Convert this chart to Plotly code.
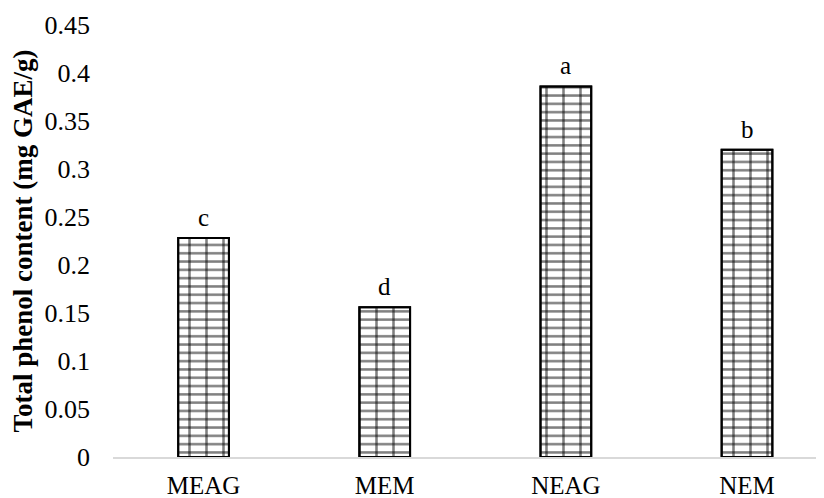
import plotly.graph_objects as go

categories = ["MEAG", "MEM", "NEAG", "NEM"]
values = [0.228, 0.156, 0.386, 0.320]
letters = ["c", "d", "a", "b"]
y_ticks = [0, 0.05, 0.1, 0.15, 0.2, 0.25, 0.3, 0.35, 0.4, 0.45]
y_tick_labels = ["0", "0.05", "0.1", "0.15", "0.2", "0.25", "0.3", "0.35", "0.4", "0.45"]

FONT = "Liberation Serif"

fig = go.Figure()
# base bars: white fill with horizontal mortar lines
fig.add_trace(go.Bar(
    x=categories, y=values, width=0.28,
    marker=dict(color="white",
                line=dict(color="black", width=2),
                pattern=dict(shape="-", fgcolor="black", bgcolor="white",
                             size=8.3, solidity=0.3)),
    hoverinfo="x+y", showlegend=False,
))
# overlay: vertical joints
fig.add_trace(go.Bar(
    x=categories, y=values, width=0.28,
    marker=dict(color="rgba(0,0,0,0)",
                line=dict(color="black", width=2),
                pattern=dict(shape="|", fgcolor="black", bgcolor="rgba(0,0,0,0)",
                             size=17, solidity=0.15, fillmode="overlay")),
    hoverinfo="skip", showlegend=False,
))

for c, v, t in zip(categories, values, letters):
    fig.add_annotation(x=c, y=v, text=t, showarrow=False, yanchor="bottom",
                       yshift=5, font=dict(family=FONT, size=25, color="black"))

# page body adds an 8px offset, so the figure is 8px smaller than the window
fig.update_layout(
    width=816, height=490,
    margin=dict(l=105, r=0, t=17, b=41),
    barmode="overlay",
    plot_bgcolor="white", paper_bgcolor="white",
    font=dict(family=FONT, size=25, color="black"),
    xaxis=dict(type="category", range=[-0.5, 3.425], showline=True,
               linecolor="#d9d9d9", linewidth=2, ticks="", showgrid=False,
               automargin=False,
               ticklabelstandoff=5, tickfont=dict(family=FONT, size=25)),
    yaxis=dict(range=[0, 0.45], tickvals=y_ticks, ticktext=y_tick_labels,
               showgrid=False, zeroline=False, showline=False, ticks="",
               automargin=False,
               ticklabelstandoff=22, tickfont=dict(family=FONT, size=26),
               title=dict(text="<b>Total phenol content (mg GAE/g)</b>",
                          font=dict(family=FONT, size=27), standoff=8)),
)

fig.write_html("out.html")
